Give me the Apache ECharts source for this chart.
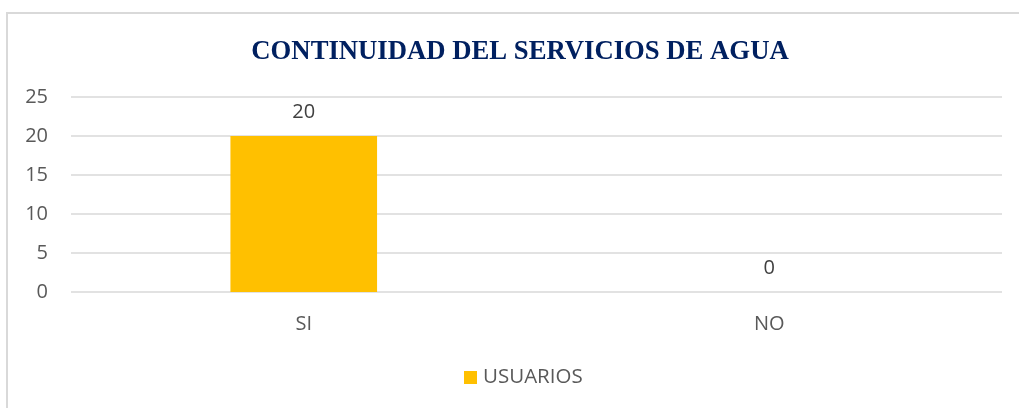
<!DOCTYPE html>
<html>
<head>
<meta charset="utf-8">
<script src="https://cdn.jsdelivr.net/npm/echarts@6/dist/echarts.min.js"></script>
<style>
  html, body { margin: 0; padding: 0; background: #ffffff; }
  #chart { width: 1019px; height: 408px; }
</style>
</head>
<body>
<div id="chart"></div>
<script>
// Chart data
const titleText = 'CONTINUIDAD DEL SERVICIOS DE AGUA';
const categories = ['SI', 'NO'];
const seriesName = 'USUARIOS';
const usuarios = [20, 0];
const yTicks = { min: 0, max: 25, interval: 5 };

const textGray = '#595959';
const gridGray = '#d9d9d9';

const chart = echarts.init(document.getElementById('chart'), null, { renderer: 'canvas' });

chart.setOption({
  backgroundColor: '#ffffff',
  animation: false,
  title: {
    text: titleText,
    left: 515,
    top: 34,
    textAlign: 'center',
    textStyle: {
      fontFamily: 'Liberation Serif',
      fontWeight: 'bold',
      fontSize: 26.7,
      color: '#002060'
    }
  },
  graphic: [{
    type: 'rect',
    silent: true,
    z: -10,
    shape: { x: 7, y: 13, width: 1100, height: 500 },
    style: { fill: 'none', stroke: gridGray, lineWidth: 2 }
  }],
  legend: {
    data: [seriesName],
    left: 464,
    top: 367,
    padding: 0,
    itemWidth: 13,
    itemHeight: 13,
    itemGap: 5,
    icon: 'rect',
    textStyle: { fontFamily: 'Open Sans', fontSize: 20.5, color: textGray, padding: [0, 0, 0, 1] }
  },
  grid: { left: 71, right: 17, top: 97, bottom: 116, containLabel: false },
  xAxis: {
    type: 'category',
    data: categories,
    axisLine: { show: false },
    axisTick: { show: false },
    axisLabel: { margin: 22, fontFamily: 'Open Sans', fontSize: 20, color: textGray }
  },
  yAxis: {
    type: 'value',
    min: yTicks.min,
    max: yTicks.max,
    interval: yTicks.interval,
    axisLine: { show: false },
    axisTick: { show: false },
    axisLabel: { margin: 23, fontFamily: 'Open Sans', fontSize: 20, color: textGray },
    splitLine: { lineStyle: { color: gridGray, width: 1.5 } }
  },
  series: [{
    name: seriesName,
    type: 'bar',
    data: usuarios,
    barWidth: '31.5%',
    itemStyle: { color: '#FFC000' },
    label: {
      show: true,
      position: 'top',
      distance: 14,
      fontFamily: 'Open Sans',
      fontSize: 20,
      color: '#404040'
    }
  }]
});
</script>
</body>
</html>
